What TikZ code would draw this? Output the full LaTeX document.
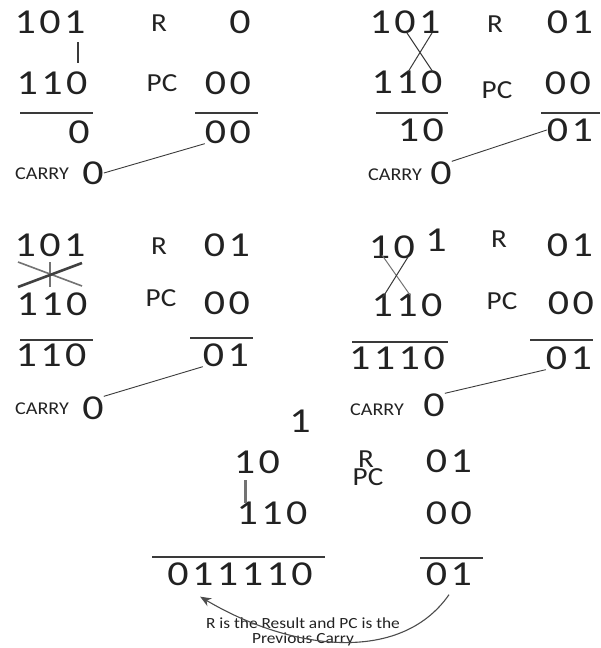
\documentclass[tikz,border=0pt]{standalone}
\usepackage{fontspec}
\setmainfont[FakeStretch=1.12]{Carlito}
\newfontfamily\numfont[FakeStretch=1.2,LetterSpace=10]{Carlito}
\usepackage{xcolor}
\usetikzlibrary{arrows.meta}
\definecolor{ink}{HTML}{222222}
\definecolor{rule}{HTML}{3A3A3A}

\begin{document}
\begin{tikzpicture}[x=1pt,y=-1pt,
          every node/.style={inner sep=0pt,text=ink},
          num/.style={font=\numfont\fontsize{35}{36}\selectfont},
          lbl/.style={font=\fontsize{26}{28}\selectfont},
          carrylbl/.style={font=\fontsize{18}{20}\selectfont},
          sumline/.style={line width=1.6pt,rule},
          cross/.style={line width=1pt,rule},
          carryline/.style={line width=0.9pt,rule},
      ]
        \useasboundingbox (0,0) rectangle (600,648);

        % first step
        \node[num] (a1) at (50,22) {101};
        \node[lbl] (rl1) at (159,23) {R};
        \node[num] (r1) at (240,22) {0};
        \node[num] (b1) at (52,83) {110};
        \node[lbl] (pl1) at (162,83) {PC};
        \node[num] (p1) at (228,83) {00};
        \node[num] (s1) at (79,132) {0};
        \node[num] (q1) at (228,132) {00};
        \node[carrylbl] (cl1) at (42,174) {CARRY};
        \node[num] (c1) at (93,173) {0};
        \draw[sumline] (20,113) -- (93,113);
        \draw[sumline] (195,113) -- (258,113);
        \draw[line width=2pt,rule] (78,42) -- (78,63);
        \draw[carryline] (c1.east) -- (q1.south west);

        % second step
        \node[num] (a2) at (405,22) {101};
        \node[lbl] (rl2) at (495,24) {R};
        \node[num] (r2) at (570,22) {01};
        \node[num] (b2) at (407,82) {110};
        \node[lbl] (pl2) at (497,90) {PC};
        \node[num] (p2) at (568,83) {00};
        \node[num] (s2) at (421,130) {10};
        \node[num] (q2) at (570,130) {01};
        \node[carrylbl] (cl2) at (395,175) {CARRY};
        \node[num] (c2) at (441,173) {0};
        \draw[sumline] (376,113) -- (448,113);
        \draw[sumline] (541,113) -- (600,113);
        \draw[cross] (407,33) -- (433,72);
        \draw[cross] (432,33) -- (408,72);
        \draw[carryline] (c2.north east) -- (q2.west);

        % third step
        \node[num] (a3) at (50,245) {101};
        \node[lbl] (rl3) at (159,246) {R};
        \node[num] (r3) at (227,245) {01};
        \node[num] (b3) at (52,304) {110};
        \node[lbl] (pl3) at (161,298) {PC};
        \node[num] (p3) at (227,303) {00};
        \node[num] (s3) at (51,355) {110};
        \node[num] (q3) at (226,355) {01};
        \node[carrylbl] (cl3) at (42,409) {CARRY};
        \node[num] (c3) at (93,408) {0};
        \draw[sumline] (20,340) -- (93,340);
        \draw[sumline] (190,338) -- (253,338);
        \draw[line width=1.6pt,black!55] (18,262) -- (82,286);
        \draw[line width=1.6pt,black!55] (50,262) -- (50,287);
        \draw[line width=2.6pt,black!75] (18,287) -- (82,263);
        \draw[carryline] (c3.north east) -- (q3.south west);

        % fourth step
        \node[num] (a4) at (392,247) {10};
        \node[num] (a4b) at (436,240) {1};
        \node[lbl] (rl4) at (499,239) {R};
        \node[num] (r4) at (570,245) {01};
        \node[num] (b4) at (407,305) {110};
        \node[lbl] (pl4) at (502,301) {PC};
        \node[num] (p4) at (571,303) {00};
        \node[num] (s4) at (397,358) {1110};
        \node[num] (q4) at (569,358) {01};
        \node[carrylbl] (cl4) at (377,410) {CARRY};
        \node[num] (c4) at (434,405) {0};
        \draw[sumline] (352,342) -- (448,342);
        \draw[sumline] (530,340) -- (593,340);
        \draw[cross,black!55] (382,255) -- (410,295);
        \draw[cross] (408,257) -- (383,297);
        \draw[carryline] (c4.north east) -- (q4.south west);

        % last step
        \node[num] (t5) at (300,421) {1};
        \node[num] (a5) at (257,462) {10};
        \node[num] (b5) at (272,513) {110};
        \node[lbl] (rl5) at (366,459) {R};
        \node[lbl] (pl5) at (368,477) {PC};
        \node[num] (r5) at (449,461) {01};
        \node[num] (p5) at (449,513) {00};
        \node[num] (s5) at (240,574) {011110};
        \node[num] (q5) at (449,574) {01};
        \draw[sumline] (152,557) -- (325,557);
        \draw[sumline] (420,558) -- (483,558);
        \draw[line width=3pt,black!55] (245,480) -- (245,503);

        \node[font=\fontsize{15.5}{15}\selectfont,align=center] (note) at (303,632)
          {R is the Result and PC is the\\Previous Carry};
        \draw[line width=1.1pt,black!70,-{Stealth[length=11pt,width=9pt]}]
          ([yshift=-9pt]q5.south) .. controls (400,665) and (290,650) .. ([xshift=33pt,yshift=-11pt]s5.south west);
      \end{tikzpicture}
\end{document}
